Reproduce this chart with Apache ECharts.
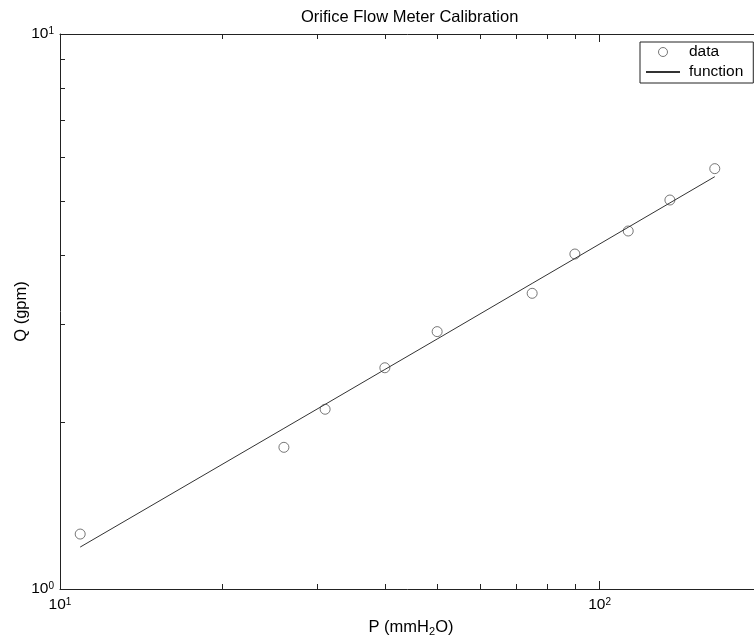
<!DOCTYPE html>
<html>
<head>
<meta charset="utf-8">
<script src="https://cdn.jsdelivr.net/npm/echarts@6/dist/echarts.min.js"></script>
<style>html,body{margin:0;padding:0;background:#fff}#c{width:754px;height:640px}</style>
</head>
<body>
<div id="c"></div>
<script>
// ---- data ----
const pressure = [10.9, 26.0, 31.0, 40.0, 50.0, 75.0, 90.0, 113, 135, 163.5];
const flowData = [1.256, 1.80, 2.108, 2.504, 2.909, 3.41, 4.014, 4.416, 5.022, 5.72];
const flowFit  = [1.190, 1.947, 2.151, 2.486, 2.821, 3.553, 3.940, 4.485, 4.962, 5.532];
const xMajor = [10, 100];
const xMinor = [20, 30, 40, 50, 60, 70, 80, 90, 200];
const yMajor = [1, 10];
const yMinor = [2, 3, 4, 5, 6, 7, 8, 9];
const titleText = 'Orifice Flow Meter Calibration';

const FONT = 'Liberation Sans, Arial, sans-serif';
const AX = '#222';

const powRich = {
  b: {fontSize: 15.5, fontFamily: FONT, color: '#000', lineHeight: 16, verticalAlign: 'bottom'},
  s: {fontSize: 10, fontFamily: FONT, color: '#000', lineHeight: 10, verticalAlign: 'top', padding: [0, 0, 10, 0]}
};
function powLabel(v) {
  const e = Math.round(Math.log10(v));
  return '{b|10}{s|' + e + '}';
}

function xAx(pos, ticks, len, showLine, showLabel) {
  return {
    type: 'log', logBase: 10, min: 10, max: 200, position: pos,
    axisLine: {show: showLine, lineStyle: {color: AX, width: 1}},
    axisTick: {show: true, inside: true, length: len, customValues: ticks, lineStyle: {color: AX}},
    axisLabel: showLabel ? {show: true, customValues: xMajor, formatter: powLabel, rich: powRich, margin: 8} : {show: false},
    splitLine: {show: false}, minorTick: {show: false}
  };
}
function yAx(pos, ticks, len, showLine, showLabel) {
  return {
    type: 'log', logBase: 10, min: 1, max: 10, position: pos,
    axisLine: {show: showLine, lineStyle: {color: AX, width: 1}},
    axisTick: {show: true, inside: true, length: len, customValues: ticks, lineStyle: {color: AX}},
    axisLabel: showLabel ? {show: true, customValues: yMajor, formatter: powLabel, rich: powRich, margin: 6} : {show: false},
    splitLine: {show: false}, minorTick: {show: false}
  };
}

const xAxes = [
  xAx('bottom', xMajor, 8, true, true),
  xAx('bottom', xMinor, 5, false, false),
  xAx('top', xMajor, 8, true, false),
  xAx('top', xMinor, 5, false, false)
];
xAxes[0].name = '{n|P (mmH}{sub|2}{n|O)}';
xAxes[0].nameLocation = 'middle';
xAxes[0].nameGap = 30;
xAxes[0].nameMoveOverlap = false;
xAxes[0].nameTextStyle = {
  rich: {
    n: {fontSize: 16.5, fontFamily: FONT, color: '#000', lineHeight: 18, verticalAlign: 'top'},
    sub: {fontSize: 11, fontFamily: FONT, color: '#000', lineHeight: 11, verticalAlign: 'bottom', padding: [9, 0, 0, 0]}
  }
};
const yAxes = [
  yAx('left', yMajor, 8, true, true),
  yAx('left', yMinor, 5, false, false)
];
yAxes[0].name = 'Q (gpm)';
yAxes[0].nameLocation = 'middle';
yAxes[0].nameGap = 30;
yAxes[0].nameMoveOverlap = false;
yAxes[0].nameTextStyle = {fontSize: 16.5, fontFamily: FONT, color: '#000'};

const chart = echarts.init(document.getElementById('c'), null, {renderer: 'canvas'});
chart.setOption({
  animation: false,
  backgroundColor: '#fff',
  title: {text: titleText, left: 296, top: 4,
    textStyle: {fontSize: 16.5, fontWeight: 'normal', fontFamily: FONT, color: '#000'}},
  grid: {left: 60, top: 34, width: 702, height: 555, containLabel: false, outerBoundsMode: 'none'},
  legend: {
    left: 640, top: 42, orient: 'vertical',
    data: [
      {name: 'data', itemStyle: {borderWidth: 1, borderColor: '#555', color: 'rgba(255,255,255,0)'}},
      {name: 'function', itemStyle: {color: 'rgba(0,0,0,0)', borderColor: 'rgba(0,0,0,0)', borderWidth: 0}}
    ],
    itemWidth: 34, itemHeight: 9, itemGap: 4,
    padding: [2, 10, 3, 5],
    borderColor: '#222', borderWidth: 1, backgroundColor: '#fff',
    textStyle: {fontSize: 15.5, fontFamily: FONT, color: '#000', lineHeight: 16, padding: [0, 0, 0, 4]}
  },
  xAxis: xAxes,
  yAxis: yAxes,
  series: [
    {name: 'data', type: 'scatter', symbol: 'circle', symbolSize: 10,
      itemStyle: {color: 'rgba(255,255,255,0)', borderColor: '#555', borderWidth: 1},
      data: pressure.map((p, i) => [p, flowData[i]])},
    {name: 'function', type: 'line', symbol: 'none', showSymbol: false,
      lineStyle: {color: '#333', width: 1},
      itemStyle: {color: 'rgba(0,0,0,0)', borderColor: 'rgba(0,0,0,0)', borderWidth: 0},
      data: pressure.map((p, i) => [p, flowFit[i]])}
  ]
});
</script>
</body>
</html>
